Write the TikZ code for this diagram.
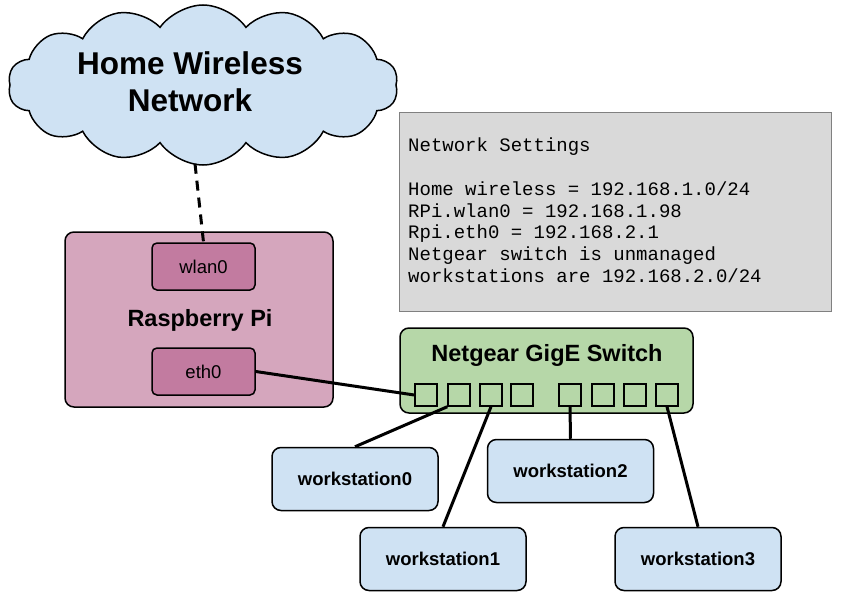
\documentclass[tikz,border=0pt]{standalone}
\usepackage{fontspec}
\setmainfont{Liberation Sans}
\newfontfamily\monof{Liberation Mono}
\usetikzlibrary{shapes.symbols}
\definecolor{cloudc}{HTML}{CFE2F3}
\definecolor{pic}{HTML}{D5A6BD}
\definecolor{portc}{HTML}{C27BA0}
\definecolor{swc}{HTML}{B6D7A8}
\definecolor{setc}{HTML}{D9D9D9}
\begin{document}
\begin{tikzpicture}[x=1pt,y=-1pt,
  box/.style={draw,line width=1.5pt,rounded corners=9pt},
  ws/.style={box,fill=cloudc,minimum width=166pt,minimum height=63pt,font=\fontsize{18.5}{21}\selectfont\bfseries},
  port/.style={draw,line width=1.5pt,fill=swc,minimum size=22pt,inner sep=0pt},
  wire/.style={line width=3pt}]
\useasboundingbox (0,0) rectangle (842,604);
\node[cloud,cloud puffs=14,cloud puff arc=110,aspect=2.6,draw,line width=1.5pt,fill=cloudc,minimum width=390pt,minimum height=160pt] (cloud) at (203,85) {};
\node[align=center,font=\fontsize{31.5}{37}\selectfont\bfseries] (cloudl) at (190,82) {Home Wireless\\Network};
\node[box,fill=pic,minimum width=268pt,minimum height=175pt] (rpi) at (199,319.5) {};
\node[font=\fontsize{23.5}{26}\selectfont\bfseries] (rpil) at (200,320) {Raspberry Pi};
\node[box,rounded corners=5pt,fill=portc,minimum width=103pt,minimum height=47pt,font=\fontsize{18.5}{21}\selectfont] (wlan) at (203.5,266.5) {wlan0};
\node[box,rounded corners=5pt,fill=portc,minimum width=103pt,minimum height=47pt,font=\fontsize{18.5}{21}\selectfont] (eth) at (203.5,371.5) {eth0};
\draw[wire,dash pattern=on 10pt off 7pt] (cloud.south) ++(-8,-2) coordinate (cb) (cb) -- (wlan.north);
\node[draw=gray,line width=0.8pt,fill=setc,minimum width=432pt,minimum height=199pt] (set) at (615,211.5) {};
\node[anchor=north west,align=left,inner sep=0pt,font=\monof\fontsize{19}{21.7}\selectfont] (settxt) at (408,138) {Network Settings\\[21.7pt]Home wireless = 192.168.1.0/24\\RPi.wlan0 = 192.168.1.98\\Rpi.eth0 = 192.168.2.1\\Netgear switch is unmanaged\\workstations are 192.168.2.0/24};
\node[box,fill=swc,minimum width=293pt,minimum height=85pt] (sw) at (546.5,370.5) {};
\node[font=\fontsize{23.5}{26}\selectfont\bfseries] (swl) at (547,355) {Netgear GigE Switch};
\foreach \i/\x in {0/426,1/459,2/491,3/522,4/570,5/603,6/635,7/667}
  \node[port] (p\i) at (\x,395) {};
\node[ws] (w0) at (355,479) {workstation0};
\node[ws] (w1) at (443,559) {workstation1};
\node[ws] (w2) at (570.5,471) {workstation2};
\node[ws] (w3) at (698,559) {workstation3};
\draw[wire] (eth.east) -- (p0.west);
\draw[wire] (p1.south west) -- (w0.north);
\draw[wire] (p2.south) -- (w1.north);
\draw[wire] (p4.south) -- (w2.north);
\draw[wire] (p7.south) -- (w3.north);
\end{tikzpicture}
\end{document}
